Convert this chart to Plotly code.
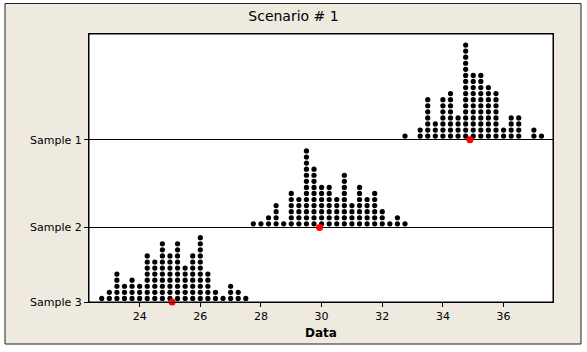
import plotly.graph_objects as go

# ---- data ----
samples = ["Sample 1", "Sample 2", "Sample 3"]

s1_values = [32.75, 33.25, 33.5, 33.75, 34.0, 34.25, 34.5, 34.75, 35.0, 35.25,
             35.5, 35.75, 36.0, 36.25, 36.5, 37.0, 37.25]
s1_counts = [1, 2, 7, 3, 7, 8, 4, 16, 11, 11, 9, 8, 2, 4, 4, 2, 1]

s2_values = [27.75, 28.0, 28.25, 28.5, 28.75, 29.0, 29.25, 29.5, 29.75, 30.0,
             30.25, 30.5, 30.75, 31.0, 31.25, 31.5, 31.75, 32.0, 32.25, 32.5, 32.75]
s2_counts = [1, 1, 2, 4, 1, 6, 5, 13, 10, 7, 7, 5, 9, 4, 7, 5, 6, 3, 1, 2, 1]

s3_values = [22.75, 23.0, 23.25, 23.5, 23.75, 24.0, 24.25, 24.5, 24.75, 25.0,
             25.25, 25.5, 25.75, 26.0, 26.25, 26.5, 26.75, 27.0, 27.25, 27.5]
s3_counts = [1, 2, 5, 3, 4, 3, 8, 7, 10, 8, 10, 6, 8, 11, 5, 2, 1, 3, 2, 1]

means = [34.89, 29.93, 25.07]
x_ticks = [24, 26, 28, 30, 32, 34, 36]

# ---- layout constants (pixel-like units on y) ----
W, H = 587, 352
ML, MR, MT, MB = 89, 34, 34, 50
PW, PH = W - ML - MR, H - MT - MB
baselines = [162.3, 74.6, 0.0]     # y positions of the sample rows
step = 6.07
offset = 3.6

fig = go.Figure()

series = [(s1_values, s1_counts), (s2_values, s2_counts), (s3_values, s3_counts)]
for (vals, cnts), base in zip(series, baselines):
    xs, ys = [], []
    for v, c in zip(vals, cnts):
        for k in range(c):
            xs.append(v)
            ys.append(base + offset + k * step)
    fig.add_trace(go.Scatter(x=xs, y=ys, mode="markers",
                             marker=dict(color="black", size=5.2, line=dict(width=0)),
                             hoverinfo="skip", showlegend=False, cliponaxis=False))

fig.add_trace(go.Scatter(x=means, y=baselines, mode="markers",
                         marker=dict(color="#FF0000", size=7, line=dict(width=0)),
                         showlegend=False, cliponaxis=False))

# frame shapes
def px_to_paper_x(px):
    return (px - ML) / PW

def py_to_paper_y(py):
    return (H - MB - py) / PH

fig.add_shape(type="rect", xref="paper", yref="paper",
              x0=px_to_paper_x(5), x1=px_to_paper_x(581),
              y0=py_to_paper_y(344), y1=py_to_paper_y(3.5),
              fillcolor="#EEEADF", line=dict(color="#222222", width=1), layer="below")
fig.add_shape(type="rect", xref="paper", yref="paper", x0=0, x1=1, y0=0, y1=1,
              fillcolor="white", line=dict(color="black", width=1), layer="below")

font = "DejaVu Sans"
fig.update_layout(
    width=W, height=H,
    margin=dict(l=ML, r=MR, t=MT, b=MB, pad=0),
    paper_bgcolor="white", plot_bgcolor="white",
    title=dict(text="Scenario # 1", x=0.5, xref="container", xanchor="center",
               y=1 - 16 / H, yref="container", yanchor="middle",
               font=dict(family=font, size=14, color="black")),
    xaxis=dict(range=[22.33, 37.63], tickvals=x_ticks, ticks="outside", ticklen=4,
               tickcolor="black", showgrid=False, zeroline=False, showline=True,
               linecolor="black", linewidth=1, mirror=True,
               tickfont=dict(family=font, size=11, color="black"),
               title=dict(text="<b>Data</b>", standoff=6,
                          font=dict(family=font, size=12, color="black"))),
    yaxis=dict(range=[0, PH], tickvals=baselines, ticktext=samples, ticks="outside",
               ticklen=4, tickcolor="black", showgrid=True, gridcolor="black",
               gridwidth=1, zeroline=False, showline=True, linecolor="black",
               linewidth=1, mirror=True,
               tickfont=dict(family=font, size=11, color="black")),
)

fig.write_html("out.html")
